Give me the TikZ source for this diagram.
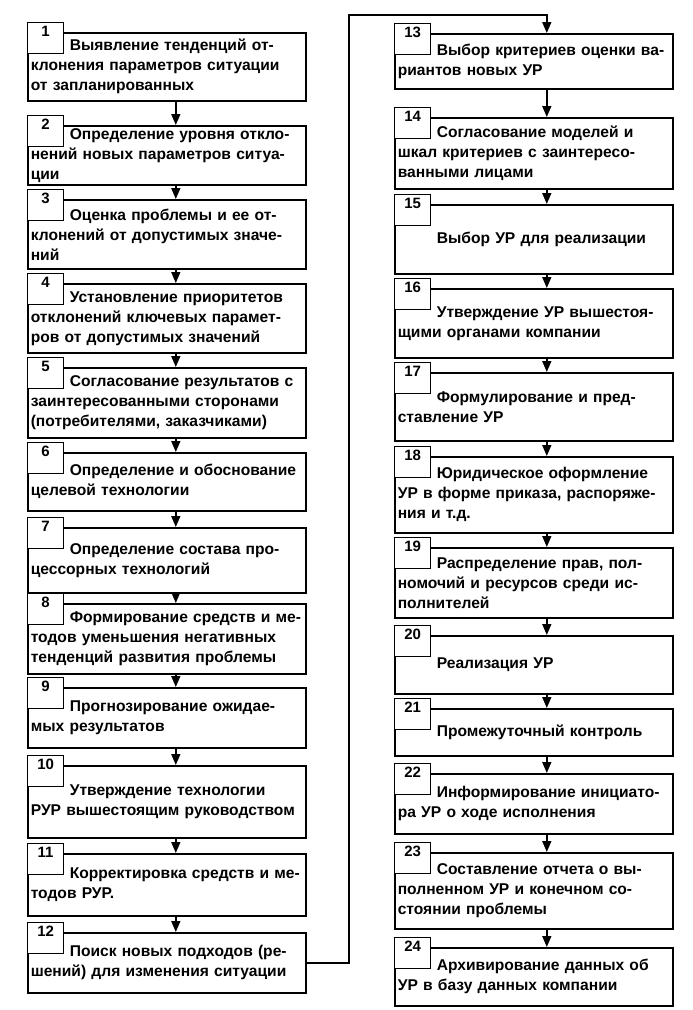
\documentclass[tikz,border=0pt]{standalone}
\usepackage{fontspec}
\setmainfont{Liberation Sans}[BoldFont={Liberation Sans Bold}]
\usetikzlibrary{arrows.meta}
\begin{document}
\begin{tikzpicture}[x=1pt, y=-1pt,
    stepbox/.style = {draw, line width=1.6pt, anchor=north west, text width=272pt, inner xsep=3pt, inner ysep=2pt, align=left, font=\bfseries\fontsize{15.6}{20}\selectfont},
    numbox/.style = {draw, line width=1.2pt, fill=white, anchor=north west, minimum width=36pt, text height=11pt, text depth=14pt, inner ysep=3pt, inner xsep=0pt, font=\bfseries\fontsize{15}{16}\selectfont},
    arr/.style = {line width=1.6pt, -{Triangle[length=11pt,width=9pt]}}]
    \useasboundingbox (0,0) rectangle (693,1010);
    % left column
    \node[stepbox, minimum height=68pt] (b1) at (27,32) {\hspace*{39pt}Выявление тенденций от-\\клонения параметров ситуации\\от запланированных};
    \node[stepbox, minimum height=59pt] (b2) at (27,125) {\hspace*{39pt}Определение уровня откло-\\нений новых параметров ситуа-\\ции};
    \node[stepbox, minimum height=69pt] (b3) at (27,199) {\hspace*{39pt}Оценка проблемы и ее от-\\клонений от допустимых значе-\\ний};
    \node[stepbox, minimum height=69pt] (b4) at (27,283) {\hspace*{39pt}Установление приоритетов\\отклонений ключевых парамет-\\ров от допустимых значений};
    \node[stepbox, minimum height=70pt] (b5) at (27,367) {\hspace*{39pt}Согласование результатов с\\заинтересованными сторонами\\(потребителями, заказчиками)};
    \node[stepbox, minimum height=58pt] (b6) at (27,452) {\hspace*{39pt}Определение и обоснование\\целевой технологии};
    \node[stepbox, minimum height=65pt] (b7) at (27,527) {\hspace*{39pt}Определение состава про-\\цессорных технологий};
    \node[stepbox, minimum height=70pt] (b8) at (27,603) {\hspace*{39pt}Формирование средств и ме-\\тодов уменьшения негативных\\тенденций развития проблемы};
    \node[stepbox, minimum height=60pt] (b9) at (27,687) {\hspace*{39pt}Прогнозирование ожидае-\\мых результатов};
    \node[stepbox, minimum height=72pt] (b10) at (27,765) {\hspace*{39pt}Утверждение технологии\\РУР вышестоящим руководством};
    \node[stepbox, minimum height=62pt] (b11) at (27,853) {\hspace*{39pt}Корректировка средств и ме-\\тодов РУР.};
    \node[stepbox, minimum height=60pt] (b12) at (27,932) {\hspace*{39pt}Поиск новых подходов (ре-\\шений) для изменения ситуации};
    % right column
    \node[stepbox, minimum height=55pt] (b13) at (394,33) {\hspace*{39pt}Выбор критериев оценки ва-\\риантов новых УР};
    \node[stepbox, minimum height=71pt] (b14) at (394,117) {\hspace*{39pt}Согласование моделей и\\шкал критериев с заинтересо-\\ванными лицами};
    \node[stepbox, minimum height=69pt] (b15) at (394,204) {\hspace*{39pt}Выбор УР для реализации};
    \node[stepbox, minimum height=69pt] (b16) at (394,288) {\hspace*{39pt}Утверждение УР вышестоя-\\щими органами компании};
    \node[stepbox, minimum height=68pt] (b17) at (394,372) {\hspace*{39pt}Формулирование и пред-\\ставление УР};
    \node[stepbox, minimum height=76pt] (b18) at (394,456) {\hspace*{39pt}Юридическое оформление\\УР в форме приказа, распоряже-\\ния и т.д.};
    \node[stepbox, minimum height=70pt] (b19) at (394,547) {\hspace*{39pt}Распределение прав, пол-\\номочий и ресурсов среди ис-\\полнителей};
    \node[stepbox, minimum height=58pt] (b20) at (394,635) {\hspace*{39pt}Реализация УР};
    \node[stepbox, minimum height=47pt] (b21) at (394,708) {\hspace*{39pt}Промежуточный контроль};
    \node[stepbox, minimum height=60pt] (b22) at (394,773) {\hspace*{39pt}Информирование инициато-\\ра УР о ходе исполнения};
    \node[stepbox, minimum height=76pt] (b23) at (394,852) {\hspace*{39pt}Составление отчета о вы-\\полненном УР и конечном со-\\стоянии проблемы};
    \node[stepbox, minimum height=58pt] (b24) at (394,947) {\hspace*{39pt}Архивирование данных об\\УР в базу данных компании};
    % number tabs
    \foreach \i in {1,...,24}
        \node[numbox] (n\i) at ([yshift=10pt]b\i.north west) {\i};
    % arrows
    \foreach \a/\b in {1/2,2/3,3/4,4/5,5/6,6/7,7/8,8/9,9/10,10/11,11/12}
        \draw[arr] ([xshift=9pt]b\a.south) -- ([xshift=9pt]b\b.north);
    \foreach \a/\b in {13/14,14/15,15/16,16/17,17/18,18/19,19/20,20/21,21/22,22/23,23/24}
        \draw[arr] ([xshift=13pt]b\a.south) -- ([xshift=13pt]b\b.north);
    \coordinate (turn) at (349,15);
    \draw[arr] (b12.east) -| (turn) -| ([xshift=13pt]b13.north);
\end{tikzpicture}
\end{document}
